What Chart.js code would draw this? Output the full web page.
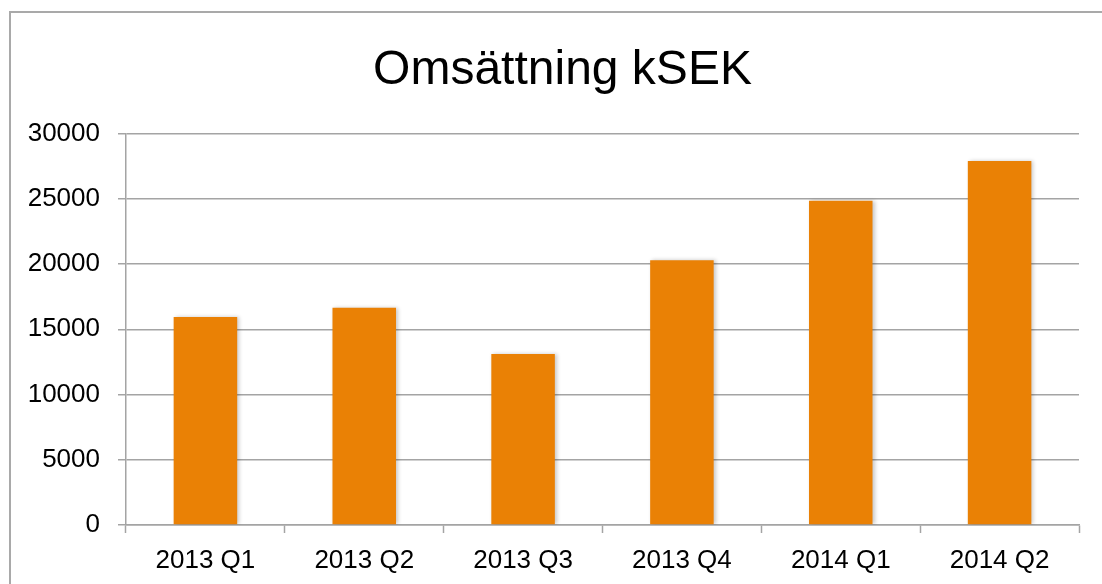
<!DOCTYPE html>
<html>
<head>
<meta charset="utf-8">
<script src="https://cdn.jsdelivr.net/npm/chart.js@4/dist/chart.umd.min.js"></script>
<style>
  html, body { margin: 0; padding: 0; background: #fff; overflow: hidden; }
  #frame {
    position: absolute; left: 9px; top: 11px; width: 1120px; height: 600px;
    border: 2px solid #a9a9a9; box-sizing: border-box;
  }
  #wrap { position: absolute; left: 0; top: 0; width: 1102px; height: 584px; }
</style>
</head>
<body>
<div id="frame"></div>
<div id="wrap"><canvas id="chart" width="1102" height="584"></canvas></div>
<script>
const quarters = ["2013 Q1", "2013 Q2", "2013 Q3", "2013 Q4", "2014 Q1", "2014 Q2"]
const revenue = [15950, 16650, 13100, 20300, 24850, 27900]
const chartTitle = "Omsättning kSEK"

const barColor = "#ea8105"
const gridColor = "#a4a4a4"
const fontFamily = "'Liberation Sans', Arial, Helvetica, sans-serif"

// soft shadow behind the bars, like the original
const barShadow = {
  id: "barShadow",
  beforeDatasetsDraw(chart) {
    const ctx = chart.ctx
    ctx.save()
    ctx.shadowColor = "rgba(0,0,0,0.22)"
    ctx.shadowBlur = 4
    ctx.shadowOffsetX = 2
    ctx.shadowOffsetY = 0
  },
  afterDatasetsDraw(chart) {
    chart.ctx.restore()
  }
}

// the title in the original sits a bit right of the canvas centre
const titleShift = {
  id: "titleShift",
  afterLayout(chart) {
    const t = chart.titleBlock
    if (!t) return
    t.left += 9
    t.right += 9
  }
}

new Chart(document.getElementById("chart"), {
  type: "bar",
  data: {
    labels: quarters,
    datasets: [{
      label: chartTitle,
      data: revenue,
      backgroundColor: barColor,
      borderWidth: 0,
      barPercentage: 0.4,
      categoryPercentage: 1
    }]
  },
  plugins: [barShadow, titleShift],
  options: {
    responsive: false,
    animation: false,
    devicePixelRatio: 1,
    layout: { padding: { top: 10, left: 28, right: 23, bottom: 8 } },
    plugins: {
      legend: { display: false },
      tooltip: { enabled: false },
      title: {
        display: true,
        text: chartTitle,
        color: "#000",
        font: { family: fontFamily, size: 48, weight: "normal" },
        padding: { top: 32, bottom: 34 }
      }
    },
    scales: {
      x: {
        afterFit: (scale) => { scale.height = 51 },
        grid: {
          display: true,
          drawOnChartArea: false,
          drawTicks: true,
          tickLength: 8,
          tickColor: gridColor,
          tickWidth: 1.5,
          offset: true
        },
        border: { color: gridColor, width: 1.5 },
        ticks: {
          color: "#000",
          padding: 12,
          font: { family: fontFamily, size: 26 }
        }
      },
      y: {
        min: 0,
        max: 30000,
        afterFit: (scale) => { scale.width = 98 },
        grid: {
          color: gridColor,
          lineWidth: 1.5,
          tickLength: 8,
          tickColor: gridColor
        },
        border: { color: gridColor, width: 1.5 },
        ticks: {
          stepSize: 5000,
          color: "#000",
          padding: 18,
          font: { family: fontFamily, size: 26 },
          callback: (val) => String(val)
        }
      }
    }
  }
})
</script>
</body>
</html>
